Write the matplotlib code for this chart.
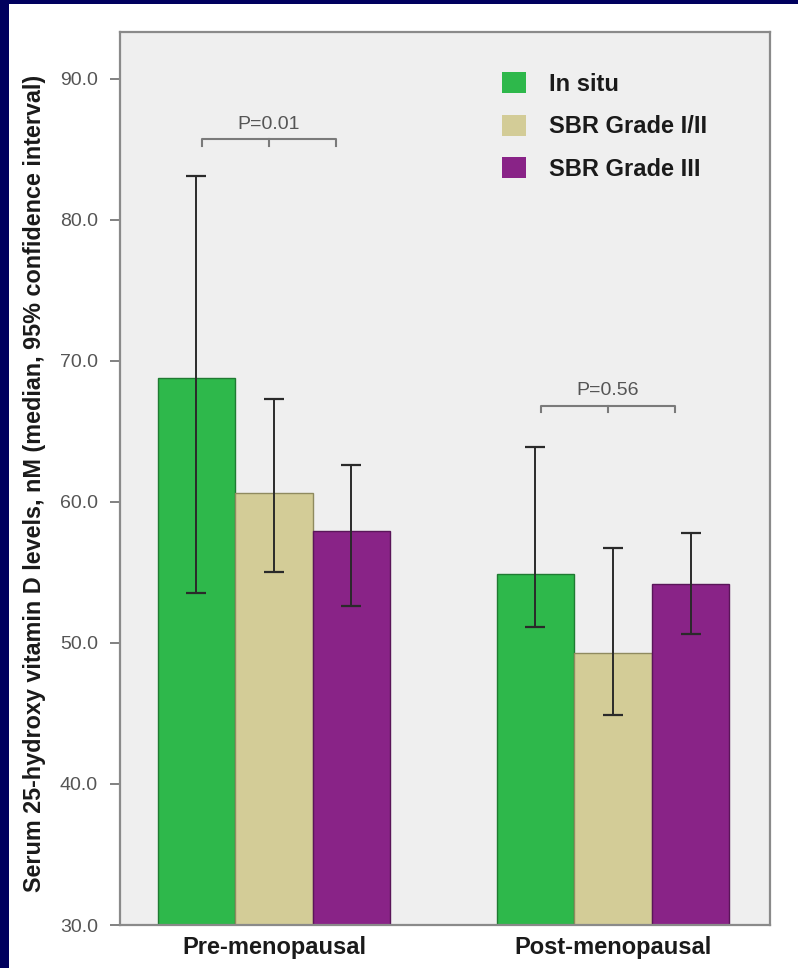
import matplotlib
matplotlib.use("Agg")
import matplotlib.pyplot as plt
from matplotlib.patches import Rectangle, Patch
import numpy as np

plt.rcParams['font.family'] = ['Liberation Sans', 'DejaVu Sans']

groups = ["Pre-menopausal", "Post-menopausal"]
series = ["In situ", "SBR Grade I/II", "SBR Grade III"]
medians = {
    "In situ": [68.8, 54.9],
    "SBR Grade I/II": [60.6, 49.3],
    "SBR Grade III": [57.9, 54.2],
}
ci_low = {
    "In situ": [53.5, 51.1],
    "SBR Grade I/II": [55.0, 44.9],
    "SBR Grade III": [52.6, 50.6],
}
ci_high = {
    "In situ": [83.1, 63.9],
    "SBR Grade I/II": [67.3, 56.7],
    "SBR Grade III": [62.6, 57.8],
}
p_labels = ["P=0.01", "P=0.56"]
p_heights = [85.7, 66.8]
yticks = [30.0, 40.0, 50.0, 60.0, 70.0, 80.0, 90.0]

colors = ["#2eb84b", "#d3cc97", "#892387"]
edges = ["#1f7a32", "#8f8a5f", "#5a1559"]

fig = plt.figure(figsize=(7.98, 9.68), dpi=100)
fig.patch.set_facecolor("#00005e")
bg = fig.add_axes([9/798, 0, 1 - 9/798, 1 - 4/968], zorder=-5)
bg.set_axis_off()
bg.add_patch(Rectangle((0, 0), 1, 1, transform=bg.transAxes, facecolor="white", edgecolor="none"))

ax = fig.add_axes([120/798, 1 - 925/968, 650/798, (925 - 32)/968], zorder=1)
ax.set_facecolor("#efefef")

x = np.arange(len(groups))
w = 0.2286
for i, s in enumerate(series):
    xs = x + (i - 1) * w
    med = np.array(medians[s])
    lo = np.array(ci_low[s])
    hi = np.array(ci_high[s])
    ax.bar(xs, med - 30, bottom=30, width=w, color=colors[i], edgecolor=edges[i],
           linewidth=1.0, zorder=2)
    ax.errorbar(xs, med, yerr=[med - lo, hi - med], fmt="none", ecolor="#2a2a2a",
                elinewidth=1.4, capsize=7.5, capthick=1.6, zorder=3)

for g, (lab, h) in enumerate(zip(p_labels, p_heights)):
    x0, x1 = g - 0.212, g + 0.183
    xm = (x0 + x1) / 2
    d = 0.45
    ax.plot([x0, x0, x1, x1], [h - d, h, h, h - d], color="#7a7a7a", lw=1.5, zorder=3)
    ax.plot([xm, xm], [h, h - d], color="#7a7a7a", lw=1.5, zorder=3)
    ax.text(xm, h + 0.45, lab, ha="center", va="bottom", fontsize=14, color="#555555")

ax.set_xlim(-0.454, 1.463)
ax.set_ylim(30, 93.3)
ax.set_yticks(yticks)
ax.set_yticklabels([f"{t:.1f}" for t in yticks], fontsize=14, color="#555555")
ax.set_xticks(x)
ax.set_xticklabels(groups, fontsize=17, fontweight="bold", color="#1a1a1a")
ax.tick_params(axis="x", length=0, pad=8)
ax.tick_params(axis="y", length=7, width=1.3, color="#777777", pad=9)
for sp in ax.spines.values():
    sp.set_color("#8a8a8a")
    sp.set_linewidth(1.6)

ax.set_ylabel("Serum 25-hydroxy vitamin D levels, nM (median, 95% confidence interval)",
              fontsize=16.8, fontweight="bold", color="#1a1a1a")
ax.yaxis.set_label_coords(-0.114, 0.494)

handles = [Patch(facecolor=c, edgecolor="none") for c in colors]
leg = ax.legend(handles, series, loc="upper left", bbox_to_anchor=(0.555, 0.979),
                frameon=False, prop={"size": 17, "weight": "bold"},
                handlelength=1.0, handleheight=1.0, handletextpad=1.0, labelspacing=0.8)
for t in leg.get_texts():
    t.set_color("#1a1a1a")

fig.savefig("out.png", dpi=100, facecolor=fig.get_facecolor())
